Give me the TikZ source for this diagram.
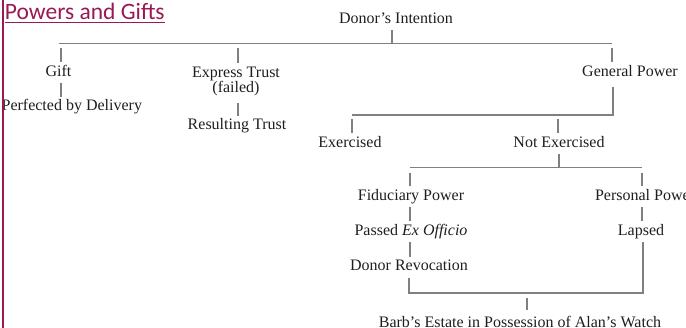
\documentclass[tikz,border=0pt]{standalone}
\usepackage{fontspec}
\setmainfont{Liberation Serif}
\newfontfamily\titlefont{Carlito}
\definecolor{maroonc}{RGB}{152,26,84}
\definecolor{txt}{RGB}{30,30,30}
\definecolor{lnc}{RGB}{128,128,128}
\begin{document}
\begin{tikzpicture}[x=1pt,y=-1pt,
  lbl0/.style={font=\fontsize{16}{14}\selectfont, text=txt, inner xsep=0pt, inner ysep=3pt},
  lbl/.style={lbl0, text height=11pt, text depth=3.5pt, anchor=base},
  ln/.style={draw=lnc, line width=1.1pt},
]
\useasboundingbox (0,0) rectangle (686,328);

% labels
\node[lbl] (donor) at (396,23.5) {Donor’s Intention};
\node[lbl] (gift) at (58.5,76.5) {Gift};
\node[lbl] (perf) at (71.8,111) {Perfected by Delivery};
\node[lbl0, font=\fontsize{16}{15}\selectfont, align=center, anchor=north] (express) at (236,63.5) {Express Trust\\(failed)};
\node[lbl] (result) at (237,130) {Resulting Trust};
\node[lbl] (gen) at (630,76.5) {General Power};
\node[lbl] (exer) at (350,147.5) {Exercised};
\node[lbl] (notex) at (559,147.5) {Not Exercised};
\node[lbl] (fid) at (411,200.5) {Fiduciary Power};
\node[lbl] (pers) at (645,200.5) {Personal Power};
\node[lbl] (passed) at (411,235.5) {Passed \textit{Ex Officio}};
\node[lbl] (lapsed) at (641,235.5) {Lapsed};
\node[lbl] (donrev) at (409,271) {Donor Revocation};
\node[lbl] (barb) at (520,327.5) {Barb’s Estate in Possession of Alan’s Watch};

% junctions
\coordinate (dj) at (392,43.5);
\coordinate (h1l) at (59,43.5);
\coordinate (gj) at (61,43.5);
\coordinate (ej) at (238,43.5);
\coordinate (gpj) at (612,43.5);
\coordinate (gpc) at (613,115);
\coordinate (exj) at (352,115);
\coordinate (nj) at (558,115);
\coordinate (n2) at (559,167.5);
\coordinate (fj) at (410,167.5);
\coordinate (pj) at (642,167.5);
\coordinate (dc) at (409,293);
\coordinate (lc) at (643,293);
\coordinate (bj) at (527,293);

% connectors
\draw[ln] (dj |- donor.south) -- (dj);
\draw[ln] (h1l) -- (gpj);
\draw[ln, shorten <=4.5pt] (gj) -- (gj |- gift.north);
\draw[ln] (gj |- gift.south) -- (gj |- perf.north);
\draw[ln, shorten <=4.5pt] (ej) -- (ej |- express.north);
\draw[ln, shorten <=4pt] (ej |- express.south) -- (ej |- result.north);
\draw[ln, shorten <=4.5pt] (gpj) -- (gpj |- gen.north);
\draw[ln, shorten <=4pt] (gpc |- gen.south) -- (gpc) -- (exj);
\draw[ln, shorten <=4pt] (exj) -- (exj |- exer.north);
\draw[ln, shorten <=4pt] (nj) -- (nj |- notex.north);
\draw[ln] (n2 |- notex.south) -- (n2);
\draw[ln] (fj) -- (pj);
\draw[ln, shorten <=5.5pt] (fj) -- (fj |- fid.north);
\draw[ln, shorten <=5.5pt] (pj) -- (pj |- pers.north);
\draw[ln] (fj |- fid.south) -- (fj |- passed.north);
\draw[ln] (pj |- pers.south) -- (pj |- lapsed.north);
\draw[ln] (fj |- passed.south) -- (fj |- donrev.north);
\draw[ln] (dc |- donrev.south) -- (dc) -- (lc) -- (lc |- lapsed.south);
\draw[ln, shorten <=5pt, shorten >=3.5pt] (bj) -- (bj |- barb.north);

% title and side bar
\node[font=\titlefont\fontsize{23.5}{28}\selectfont, text=maroonc, anchor=base west, inner sep=0pt] (title) at (4.8,20) {Powers and Gifts};
\draw[maroonc, line width=1.3pt] ([yshift=-2.7pt]title.base west) -- ([yshift=-2.7pt]title.base east);
\fill[maroonc] (2,0) rectangle (4.4,328);
\end{tikzpicture}
\end{document}
